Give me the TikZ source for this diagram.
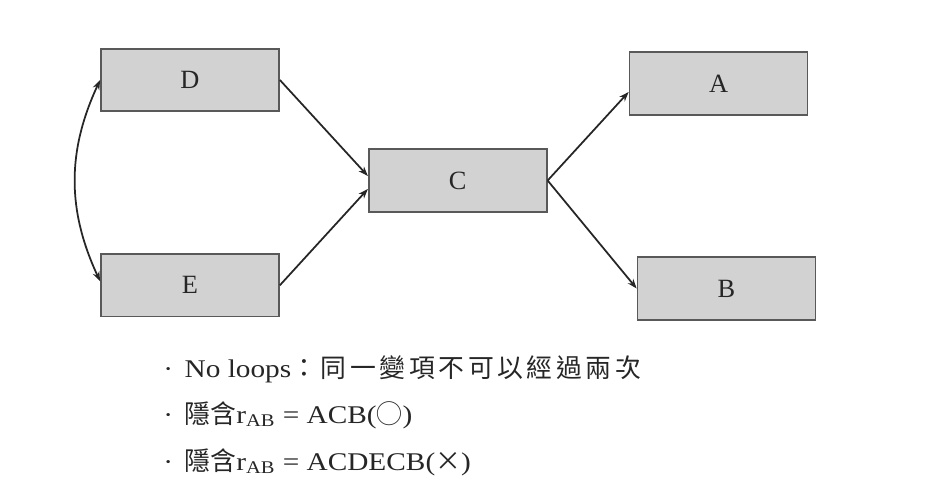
\documentclass[tikz,border=0pt]{standalone}
\usepackage{fontspec}
\setmainfont{Liberation Serif}
\newfontfamily\cjk{Noto Sans CJK TC}
\newfontfamily\cjkwide{Noto Sans CJK TC}[LetterSpace=14]
\newfontfamily\wide{Liberation Serif}[FakeStretch=1.15]
\newcommand{\zh}[1]{{\cjk\fontsize{14.7}{16}\selectfont #1}}
\newcommand{\zhw}[1]{{\cjkwide\fontsize{14.7}{16}\selectfont #1}}
\usetikzlibrary{positioning,arrows.meta}

\begin{document}
\begin{tikzpicture}[
    box/.style={draw=black!65, line width=1pt, rectangle, minimum width=3.56cm, minimum height=1.25cm, fill=gray!35, text=black!85, font=\fontsize{15}{18}\selectfont},
    arrow/.style={->, line width=1pt, draw=black!85},
    note/.style={anchor=base west, inner sep=0pt, text=black!85, font=\wide\fontsize{14.5}{17}\selectfont},
    >={Stealth[length=5.5pt,width=4pt]}
]
    \useasboundingbox (0,0) rectangle (18.92,-10);

    \node[box] (D) at (3.80,-1.60) {D};
    \node[box, below=2.82cm of D] (E) {E};
    \node[box, right=1.76cm of D, yshift=-2.01cm] (C) {C};
    \node[box, right=1.62cm of C, yshift=1.94cm] (A) {A};
    \node[box, right=1.78cm of C, yshift=-2.16cm] (B) {B};

    \draw[arrow] (D.east) -- ([yshift=0.09cm]C.west);
    \draw[arrow] (E.east) -- ([yshift=-0.17cm]C.west);
    \draw[arrow] (C.east) -- ([yshift=-0.17cm]A.west);
    \draw[arrow] (C.east) -- (B.west);
    \draw[arrow, <->] (D.west) to[bend right=25] ([yshift=0.08cm]E.west);

    % rules under the diagram
    \node[note] (r1) at (3.26,-7.54) {·\, No loops\zhw{：同一變項不可以經過兩次}};
    \node[note] (r2) at (3.26,-8.46) {·\, \zh{隱含}r\textsubscript{AB} = ACB(\zh{◯})};
    \node[note] (r3) at (3.26,-9.40) {·\, \zh{隱含}r\textsubscript{AB} = ACDECB(\zh{×})};
\end{tikzpicture}
\end{document}
